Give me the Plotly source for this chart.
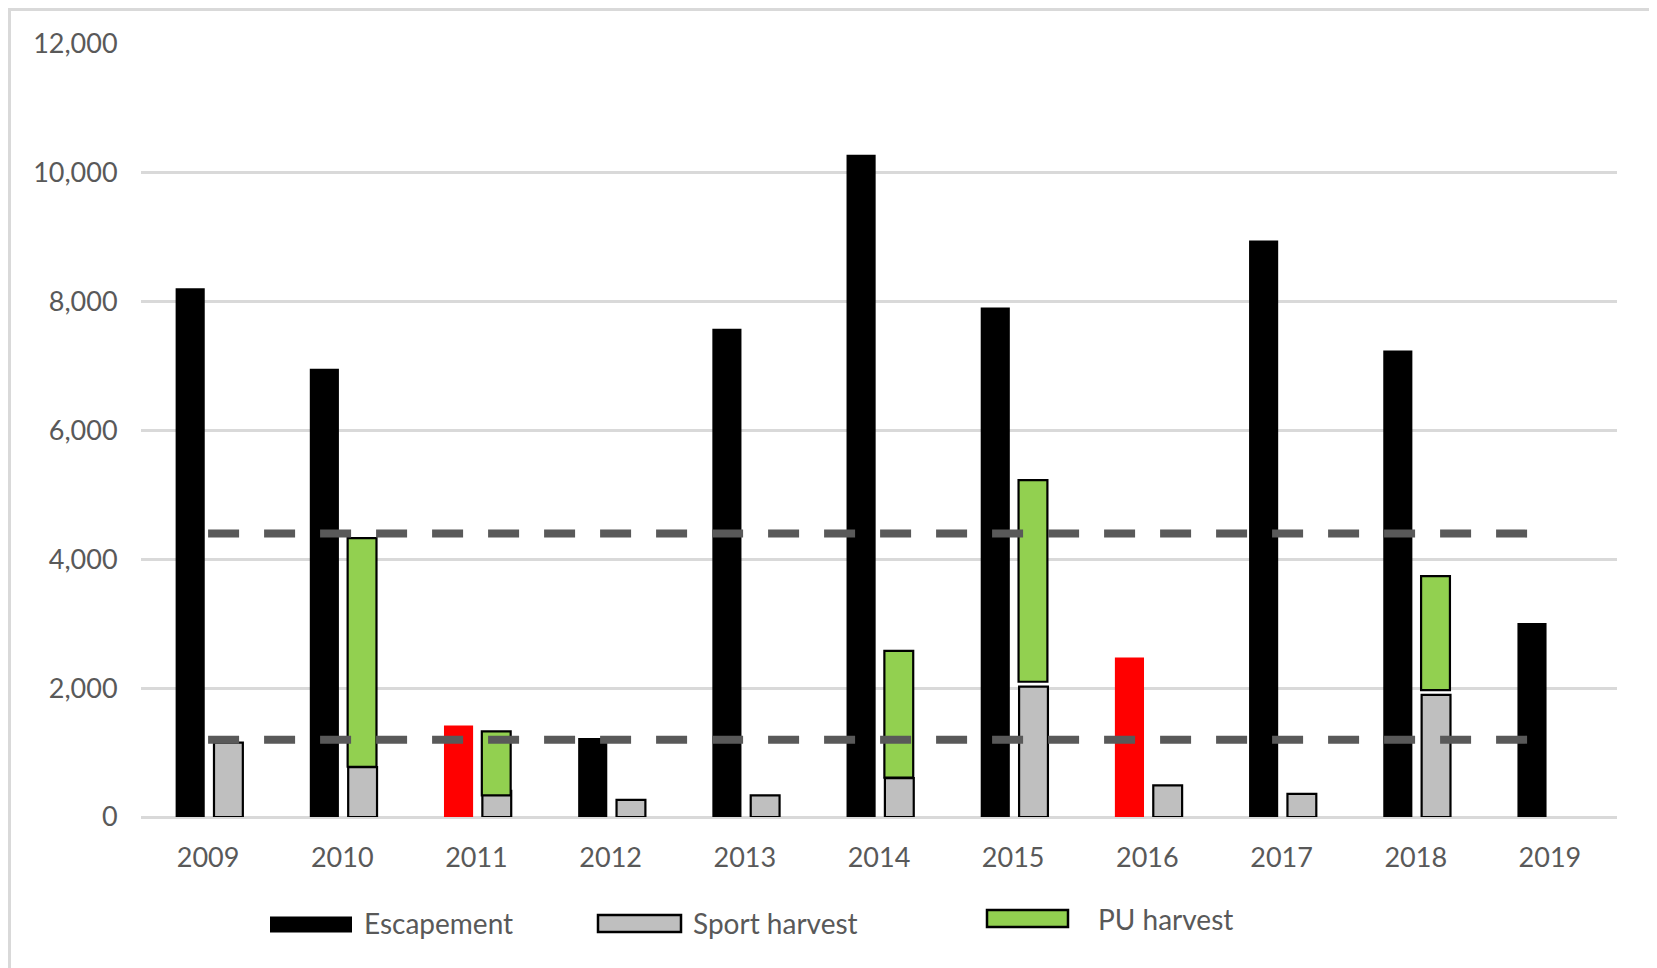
import plotly.graph_objects as go

# ---------------- data ----------------
years = ["2009", "2010", "2011", "2012", "2013", "2014", "2015", "2016", "2017", "2018", "2019"]
escapement = [8210, 6960, 1420, 1225, 7580, 10280, 7910, 2475, 8950, 7240, 3010]
below_goal_years = ["2011", "2016"]
sport_harvest = [1155, 775, 405, 265, 335, 605, 2025, 490, 360, 1895, None]
pu_harvest_base = [None, 780, 335, None, None, 610, 2100, None, None, 1970, None]
pu_harvest_top = [None, 4330, 1330, None, None, 2580, 5230, None, None, 3740, None]
goal_upper = [4400] * len(years)
goal_lower = [1200] * len(years)
y_ticks = [0, 2000, 4000, 6000, 8000, 10000, 12000]

pu_harvest = [None if (b is None or t is None) else t - b for b, t in zip(pu_harvest_base, pu_harvest_top)]

# ---------------- layout constants ----------------
W, H = 1657, 968
OFF = 8  # page offset of the figure (browser body margin)
ML, MR, MT, MB = 133, 48, 36, 159
PW, PH = W - ML - MR, H - MT - MB
FONT = "Lato"
TXT = "#595959"


def px(X):
    """page pixel x -> paper coordinate"""
    return (X - OFF - ML) / PW


def py(Y):
    """page pixel y -> paper coordinate"""
    return (H - MB - (Y - OFF)) / PH


esc_colors = ["#ff0000" if y in below_goal_years else "#000000" for y in years]

fig = go.Figure()

fig.add_trace(go.Bar(
    x=years, y=escapement, name="Escapement",
    marker=dict(color=esc_colors, line=dict(width=0)),
    offset=-0.242, width=0.217, showlegend=False,
))
fig.add_trace(go.Bar(
    x=years, y=sport_harvest, name="Sport harvest",
    marker=dict(color="#bfbfbf", line=dict(color="#000000", width=2.2)),
    offset=0.044, width=0.215, showlegend=False,
))
fig.add_trace(go.Bar(
    x=years, y=pu_harvest, base=pu_harvest_base, name="PU harvest",
    marker=dict(color="#92d050", line=dict(color="#000000", width=2.2)),
    offset=0.040, width=0.215, showlegend=False,
))
for gy in (goal_upper, goal_lower):
    fig.add_trace(go.Scatter(
        x=years, y=gy, mode="lines", showlegend=False, hoverinfo="skip",
        line=dict(color="#595959", width=8, dash="31px,25px"),
    ))

shapes = [
    # chart area (white with light border)
    dict(type="rect", xref="paper", yref="paper", layer="below",
         x0=px(9.5), x1=px(1655), y0=py(990), y1=py(9.5),
         fillcolor="white", line=dict(color="#d9d9d9", width=3)),
    # legend swatches
    dict(type="rect", xref="paper", yref="paper",
         x0=px(270), x1=px(352), y0=py(932.5), y1=py(916.5),
         fillcolor="#000000", line=dict(width=0)),
    dict(type="rect", xref="paper", yref="paper",
         x0=px(598), x1=px(681), y0=py(932), y1=py(915),
         fillcolor="#bfbfbf", line=dict(color="#000000", width=2.5)),
    dict(type="rect", xref="paper", yref="paper",
         x0=px(987), x1=px(1068), y0=py(927), y1=py(910),
         fillcolor="#92d050", line=dict(color="#000000", width=2.5)),
]

annotations = [
    dict(text="Escapement", x=px(362), y=py(923), xref="paper", yref="paper",
         xanchor="left", yanchor="middle", showarrow=False,
         font=dict(family=FONT, size=28, color=TXT)),
    dict(text="Sport harvest", x=px(691), y=py(923), xref="paper", yref="paper",
         xanchor="left", yanchor="middle", showarrow=False,
         font=dict(family=FONT, size=28, color=TXT)),
    dict(text="PU harvest", x=px(1096), y=py(919), xref="paper", yref="paper",
         xanchor="left", yanchor="middle", showarrow=False,
         font=dict(family=FONT, size=28, color=TXT)),
]

fig.update_layout(
    width=W, height=H,
    margin=dict(l=ML, r=MR, t=MT, b=MB, pad=0),
    barmode="overlay",
    paper_bgcolor="#f0f0f0",
    plot_bgcolor="rgba(0,0,0,0)",
    font=dict(family=FONT, size=27, color=TXT),
    shapes=shapes,
    annotations=annotations,
    showlegend=False,
    xaxis=dict(
        type="category", categoryorder="array", categoryarray=years,
        range=[-0.5, len(years) - 0.5],
        showgrid=False, showline=False, zeroline=False,
        ticks="outside", ticklen=17, tickcolor="rgba(0,0,0,0)",
        tickfont=dict(family=FONT, size=27, color=TXT),
    ),
    yaxis=dict(
        range=[0, 12000], tickvals=y_ticks, tickformat=",d",
        showgrid=True, gridcolor="#d9d9d9", gridwidth=3,
        zeroline=True, zerolinecolor="#d9d9d9", zerolinewidth=3,
        showline=False,
        ticks="outside", ticklen=17, tickcolor="rgba(0,0,0,0)",
        tickfont=dict(family=FONT, size=27, color=TXT),
    ),
)

fig.write_html("out.html")
